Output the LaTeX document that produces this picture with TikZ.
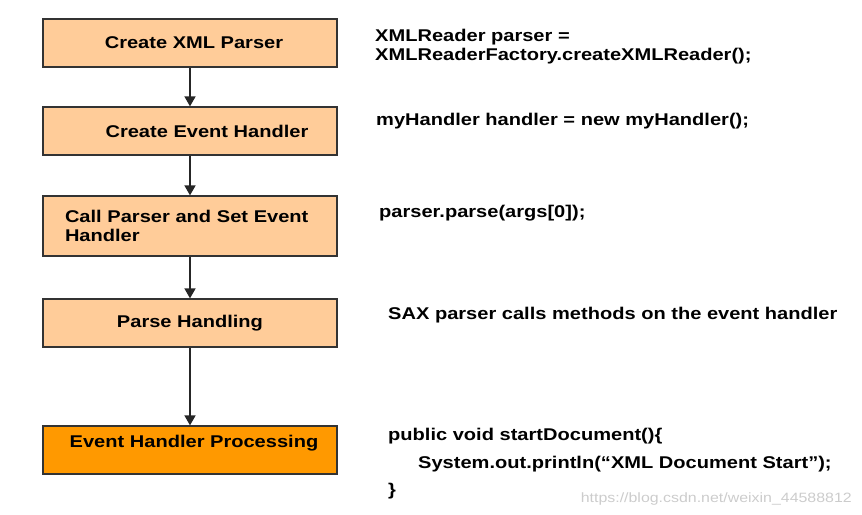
\documentclass[tikz,border=0pt]{standalone}
\usepackage{fontspec}
\setmainfont[FakeStretch=1.18]{Liberation Sans}
\usetikzlibrary{arrows.meta}
\definecolor{lightorange}{HTML}{FFCC99}
\definecolor{darkorange}{HTML}{FF9900}
\begin{document}
\begin{tikzpicture}[x=1pt,y=1pt,
  font=\fontsize{17}{19}\selectfont\bfseries,
  stage/.style={draw=black!80,line width=1.2pt,fill=lightorange,minimum width=294pt,minimum height=48pt,inner sep=3pt},
  code/.style={anchor=base west,inner sep=0pt},
  flow/.style={-{Triangle[length=10pt,width=11pt]},line width=1.5pt,black!85}]
\useasboundingbox (0,0) rectangle (862,-514);
% left column: the steps
\node[stage] (create) at (190,-43) {\hspace*{8pt}Create XML Parser};
\node[stage] (handler) at (190,-131) {\hspace*{34pt}Create Event Handler};
\node[stage,minimum height=60pt,text width=250pt,align=left] (call) at (190,-226) {Call Parser and Set Event\\Handler};
\node[stage] (parse) at (190,-323) {Parse Handling};
\node[stage,fill=darkorange,text depth=17.5pt] (process) at (190,-450) {\hspace*{8pt}Event Handler Processing};
\draw[flow] (create) -- (handler);
\draw[flow] (handler) -- (call);
\draw[flow] (call) -- (parse);
\draw[flow] (parse) -- (process);
% right column: the code
\node[inner sep=0pt,anchor=north west,align=left] (newreader) at (375,-29) {XMLReader parser =\\XMLReaderFactory.createXMLReader();};
\node[code] (newhandler) at (376,-125) {myHandler handler = new myHandler();};
\node[code] (callparse) at (379,-217) {parser.parse(args[0]);};
\node[code] (calls) at (388,-319) {SAX parser calls methods on the event handler};
\node[code] (start) at (388,-440) {public void startDocument()\{};
\node[code] (println) at (418,-468) {System.out.println(“XML Document Start”);};
\node[code] (close) at (388,-495) {\}};
\node[code,anchor=base east,font=\fontsize{13.5}{14}\selectfont,text=black!20] (mark) at (852,-502) {https://blog.csdn.net/weixin\_44588812};
\end{tikzpicture}
\end{document}
